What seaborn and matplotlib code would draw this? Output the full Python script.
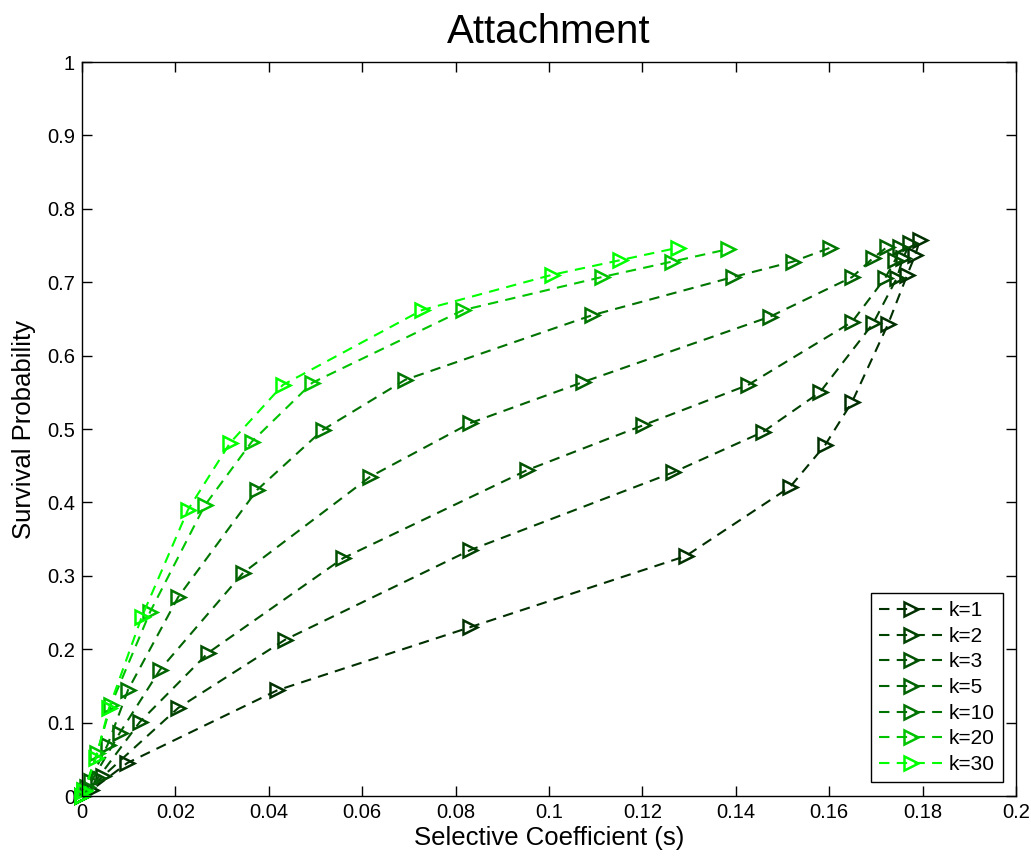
import matplotlib
matplotlib.use('Agg')
import matplotlib.pyplot as plt
import seaborn as sns
import numpy as np
import pandas as pd

# curve values, from the origin up to the last point
k_labels = ['k=1', 'k=2', 'k=3', 'k=5', 'k=10', 'k=20', 'k=30']

s_k1 = [0, 0.002, 0.0097, 0.0418, 0.0831, 0.1293, 0.1516, 0.1591, 0.1649, 0.1726, 0.1767, 0.1784, 0.1794]
p_k1 = [0, 0.008, 0.045, 0.144, 0.230, 0.327, 0.421, 0.478, 0.537, 0.643, 0.710, 0.737, 0.757]

s_k2 = [0, 0.0045, 0.0206, 0.0435, 0.0831, 0.1266, 0.1458, 0.1580, 0.1694, 0.1745, 0.1758, 0.1773]
p_k2 = [0, 0.027, 0.120, 0.213, 0.335, 0.441, 0.496, 0.550, 0.644, 0.706, 0.733, 0.753]

s_k3 = [0, 0.0035, 0.0124, 0.0270, 0.0559, 0.0953, 0.1201, 0.1426, 0.1649, 0.1720, 0.1741, 0.1752]
p_k3 = [0, 0.025, 0.101, 0.195, 0.324, 0.444, 0.505, 0.560, 0.646, 0.706, 0.730, 0.748]

s_k5 = [0, 0.0020, 0.0081, 0.0167, 0.0345, 0.0617, 0.0831, 0.1073, 0.1473, 0.1649, 0.1694, 0.1724]
p_k5 = [0, 0.020, 0.086, 0.172, 0.304, 0.435, 0.508, 0.564, 0.653, 0.707, 0.733, 0.748]

s_k10 = [0, 0.0010, 0.0055, 0.0099, 0.0206, 0.0375, 0.0516, 0.0692, 0.1092, 0.1394, 0.1522, 0.1602]
p_k10 = [0, 0.012, 0.070, 0.145, 0.271, 0.417, 0.499, 0.567, 0.655, 0.707, 0.728, 0.747]

s_k20 = [0, 0.0005, 0.0032, 0.0062, 0.0146, 0.0263, 0.0364, 0.0493, 0.0816, 0.1113, 0.1263, 0.1383]
p_k20 = [0, 0.008, 0.058, 0.124, 0.251, 0.396, 0.483, 0.563, 0.662, 0.707, 0.728, 0.745]

s_k30 = [0, 0.0005, 0.0030, 0.0058, 0.0128, 0.0227, 0.0317, 0.0430, 0.0728, 0.1006, 0.1152, 0.1276]
p_k30 = [0, 0.007, 0.052, 0.120, 0.244, 0.390, 0.481, 0.560, 0.662, 0.710, 0.730, 0.747]

all_s = [s_k1, s_k2, s_k3, s_k5, s_k10, s_k20, s_k30]
all_p = [p_k1, p_k2, p_k3, p_k5, p_k10, p_k20, p_k30]

colors = ['#002f00', '#004200', '#005200', '#006200', '#007400', '#00c400', '#00ff00']

x_ticks = [0, 0.02, 0.04, 0.06, 0.08, 0.1, 0.12, 0.14, 0.16, 0.18, 0.2]
x_tick_labels = ['0', '0.02', '0.04', '0.06', '0.08', '0.1', '0.12', '0.14', '0.16', '0.18', '0.2']
y_ticks = [0, 0.1, 0.2, 0.3, 0.4, 0.5, 0.6, 0.7, 0.8, 0.9, 1]
y_tick_labels = ['0', '0.1', '0.2', '0.3', '0.4', '0.5', '0.6', '0.7', '0.8', '0.9', '1']


def main():
    sns.set_style('white')
    plt.rcParams['font.family'] = ['Liberation Sans', 'DejaVu Sans']
    plt.rcParams['text.color'] = 'black'
    plt.rcParams['axes.labelcolor'] = 'black'
    plt.rcParams['xtick.color'] = 'black'
    plt.rcParams['ytick.color'] = 'black'

    fig = plt.figure(figsize=(10.31, 8.59), dpi=100)
    ax = fig.add_axes([0.0795, 0.0733, 0.906, 0.8545])

    for lab, s, p, c in zip(k_labels, all_s, all_p, colors):
        df = pd.DataFrame({'s': s, 'p': p})
        sns.lineplot(ax=ax, data=df, x='s', y='p', sort=False, estimator=None,
                     color=c, linestyle=(0, (5, 3.5)), linewidth=1.5,
                     marker='>', markersize=10.5, markerfacecolor='none',
                     markeredgecolor=c, markeredgewidth=1.8,
                     label=lab, clip_on=False)

    ax.set_xlim(0, 0.2)
    ax.set_ylim(0, 1)
    ax.set_xticks(x_ticks)
    ax.set_xticklabels(x_tick_labels)
    ax.set_yticks(y_ticks)
    ax.set_yticklabels(y_tick_labels)
    ax.tick_params(direction='in', length=7, width=1, labelsize=14.5, pad=5,
                   top=True, right=True, bottom=True, left=True)
    for sp in ax.spines.values():
        sp.set_color('black')
        sp.set_linewidth(1.0)

    ax.set_title('Attachment', fontsize=29, pad=14)
    ax.set_xlabel('Selective Coefficient (s)', fontsize=18.5, labelpad=3)
    ax.set_ylabel('Survival Probability', fontsize=18.5, labelpad=8)

    leg = ax.legend(loc='lower right', fontsize=15, handlelength=3.0,
                    handletextpad=0.3, labelspacing=0.32, borderpad=0.4,
                    borderaxespad=0.65, fancybox=False, framealpha=1)
    leg.get_frame().set_edgecolor('black')
    leg.get_frame().set_linewidth(1.0)

    plt.savefig('out.png', dpi=100)


if __name__ == '__main__':
    main()
